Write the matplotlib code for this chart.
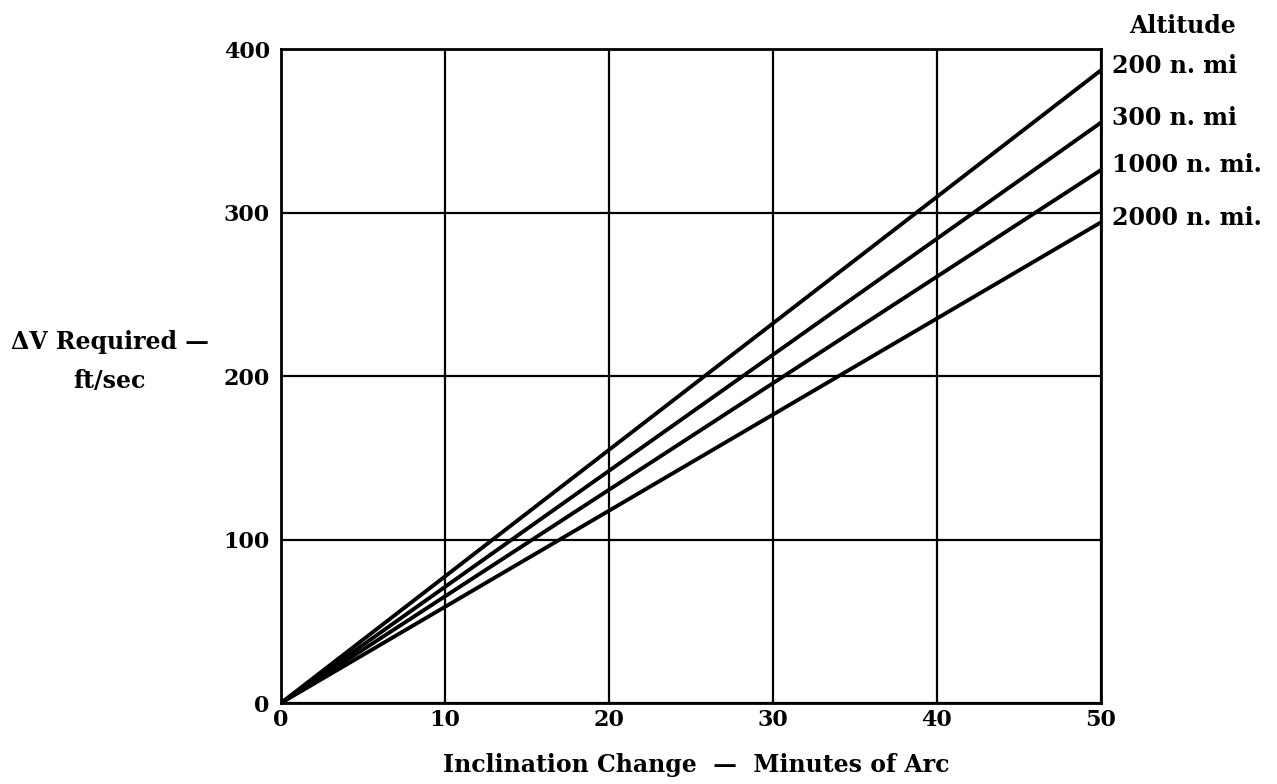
import matplotlib
matplotlib.use("Agg")
from matplotlib import pyplot as plt

# Inclination change (minutes of arc) and delta-V (ft/sec) per altitude
incl = [0, 50]
altitudes = ["200 n. mi", "300 n. mi", "1000 n. mi.", "2000 n. mi."]
dv_200 = [0, 387]
dv_300 = [0, 355]
dv_1000 = [0, 326]
dv_2000 = [0, 294]
series = [dv_200, dv_300, dv_1000, dv_2000]

plt.rcParams['font.family'] = ['DejaVu Serif']
plt.rcParams['font.weight'] = 'bold'

fig = plt.figure(figsize=(12.77, 7.84), dpi=100)
ax = fig.add_axes([0.220, 0.1033, 0.642, 0.834])

for s in series:
    ax.plot(incl, s, color='black', lw=2.8, solid_capstyle='round')

ax.set_xlim(0, 50)
ax.set_ylim(0, 400)
ax.set_xticks([0, 10, 20, 30, 40, 50])
ax.set_yticks([0, 100, 200, 300, 400])
ax.grid(True, color='black', lw=1.6)
for sp in ax.spines.values():
    sp.set_linewidth(2.0)
ax.tick_params(length=0, labelsize=16)
ax.tick_params(axis='y', pad=8)
ax.tick_params(axis='x', pad=4)
for lab in ax.get_xticklabels() + ax.get_yticklabels():
    lab.set_fontweight('bold')

# right-hand altitude labels
for name, s in zip(altitudes, series):
    ax.text(50.7, s[-1] + 3, name, fontsize=17, fontweight='bold', va='center', ha='left')
ax.text(1.035, 1.035, "Altitude", transform=ax.transAxes, fontsize=17, fontweight='bold',
        va='center', ha='left')

fig.text(0.086, 0.539, "ΔV Required —\nft/sec", fontsize=17, fontweight='bold',
         ha='center', va='center', linespacing=1.75)
fig.text(0.545, 0.024, "Inclination Change  —  Minutes of Arc", fontsize=17,
         fontweight='bold', ha='center', va='center')

fig.savefig("out.png", dpi=100)
